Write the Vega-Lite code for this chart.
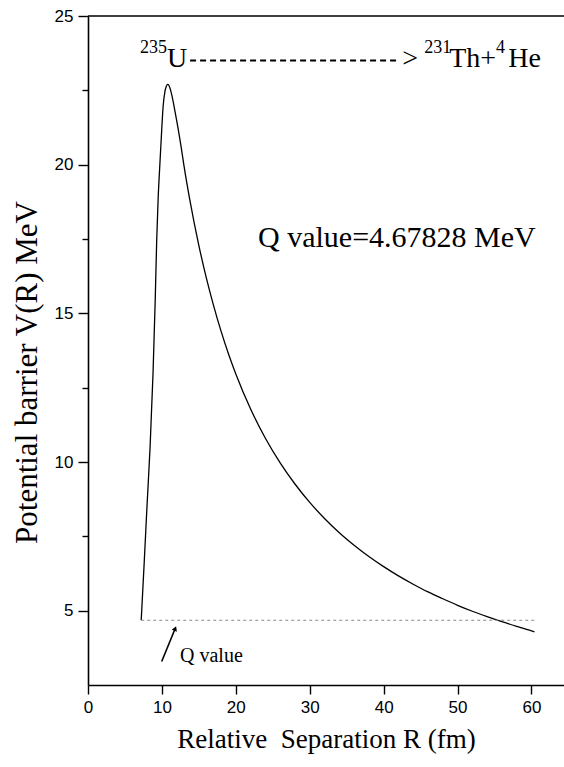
{
  "$schema": "https://vega.github.io/schema/vega-lite/v6.json",
  "autosize": "none",
  "padding": {"left": 88, "top": 16, "right": 0, "bottom": 82},
  "width": 476,
  "height": 669,
  "background": "white",
  "config": {
    "view": {"stroke": null},
    "axis": {
      "grid": false,
      "domainColor": "black",
      "domainWidth": 1.6,
      "tickColor": "black",
      "tickWidth": 1.4,
      "labelFont": "Liberation Sans",
      "labelFontSize": 17,
      "labelColor": "black",
      "titleFont": "Liberation Serif",
      "titleFontWeight": "normal",
      "titleColor": "black"
    }
  },
  "datasets": {
    "barrier": [
      {"R": 7.2, "V": 4.68},
      {"R": 7.6, "V": 6.6},
      {"R": 8.0, "V": 8.6},
      {"R": 8.4, "V": 10.5},
      {"R": 8.8, "V": 13.0},
      {"R": 9.1, "V": 15.5},
      {"R": 9.3, "V": 17.5},
      {"R": 9.49, "V": 18.85},
      {"R": 9.76, "V": 20.18},
      {"R": 10.0, "V": 21.3},
      {"R": 10.16, "V": 21.95},
      {"R": 10.4, "V": 22.45},
      {"R": 10.6, "V": 22.64},
      {"R": 10.8, "V": 22.7},
      {"R": 11.0, "V": 22.64},
      {"R": 11.2, "V": 22.48},
      {"R": 11.47, "V": 22.19},
      {"R": 11.8, "V": 21.75},
      {"R": 12.2, "V": 21.2},
      {"R": 12.6, "V": 20.6},
      {"R": 13.0, "V": 19.94},
      {"R": 13.8, "V": 18.78},
      {"R": 15.0, "V": 17.28},
      {"R": 16.0, "V": 16.2},
      {"R": 17.0, "V": 15.25},
      {"R": 18.0, "V": 14.4},
      {"R": 19.0, "V": 13.64},
      {"R": 20.0, "V": 12.96},
      {"R": 22.0, "V": 11.78},
      {"R": 24.0, "V": 10.8},
      {"R": 26.0, "V": 9.97},
      {"R": 28.0, "V": 9.26},
      {"R": 30.0, "V": 8.64},
      {"R": 32.0, "V": 8.1},
      {"R": 34.0, "V": 7.62},
      {"R": 36.0, "V": 7.2},
      {"R": 38.0, "V": 6.82},
      {"R": 40.0, "V": 6.48},
      {"R": 42.0, "V": 6.17},
      {"R": 44.0, "V": 5.89},
      {"R": 46.0, "V": 5.63},
      {"R": 48.0, "V": 5.4},
      {"R": 50.0, "V": 5.18},
      {"R": 52.0, "V": 4.98},
      {"R": 54.0, "V": 4.8},
      {"R": 56.0, "V": 4.63},
      {"R": 58.0, "V": 4.47},
      {"R": 60.0, "V": 4.32},
      {"R": 60.4, "V": 4.29}
    ],
    "qline": [
      {"R": 7.2, "V": 4.678},
      {"R": 60.6, "V": 4.678}
    ],
    "frame": [{"R": 0, "R2": 64.4, "V": 25}],
    "pointer": [
      {"R": 9.97, "V": 3.29},
      {"R": 11.8, "V": 4.4}
    ],
    "pointerHead": [{"R": 11.8, "V": 4.4}],
    "reactionArrow": [{"R": 13.81, "R2": 42.1, "V": 23.5}],
    "reactionMain": [
      {"R": 10.69, "V": 23.3, "t": "U"},
      {"R": 42.5, "V": 23.3, "t": ">"},
      {"R": 48.86, "V": 23.3, "t": "Th+"},
      {"R": 56.85, "V": 23.3, "t": "He"}
    ],
    "reactionSup": [
      {"R": 7.04, "V": 23.76, "t": "235"},
      {"R": 45.48, "V": 23.76, "t": "231"},
      {"R": 55.2, "V": 23.76, "t": "4"}
    ],
    "qLabel": [{"R": 23.0, "V": 17.22, "t": "Q value=4.67828 MeV"}],
    "qNote": [{"R": 12.45, "V": 3.29, "t": "Q value"}]
  },
  "layer": [
    {
      "data": {"name": "barrier"},
      "mark": {"type": "line", "color": "black", "strokeWidth": 1.3, "interpolate": "monotone"},
      "encoding": {
        "x": {
          "field": "R", "type": "quantitative",
          "scale": {"domain": [0, 64.4], "nice": false, "zero": false},
          "axis": {
            "values": [0, 5, 10, 15, 20, 25, 30, 35, 40, 45, 50, 55, 60],
            "labelExpr": "datum.value % 10 === 0 ? datum.label : ''",
            "tickSize": {"condition": {"test": "datum.value % 10 === 0", "value": 9}, "value": 6},
            "labelPadding": 5,
            "labelFlush": false,
            "title": "Relative\u00a0 Separation R (fm)",
            "titleFontSize": 27,
            "titlePadding": 11
          }
        },
        "y": {
          "field": "V", "type": "quantitative",
          "scale": {"domain": [2.5, 25], "nice": false, "zero": false},
          "axis": {
            "values": [5, 7.5, 10, 12.5, 15, 17.5, 20, 22.5, 25],
            "labelExpr": "datum.value % 5 === 0 ? datum.label : ''",
            "tickSize": {"condition": {"test": "datum.value % 5 === 0", "value": 10}, "value": 6},
            "labelPadding": 5,
            "labelFlush": false,
            "title": "Potential barrier V(R) MeV",
            "titleFontSize": 31,
            "titlePadding": 11,
            "titleY": 356
          }
        }
      }
    },
    {
      "data": {"name": "qline"},
      "mark": {"type": "line", "color": "#8a8a8a", "strokeWidth": 1.1, "strokeDash": [3, 3]},
      "encoding": {
        "x": {"field": "R", "type": "quantitative"},
        "y": {"field": "V", "type": "quantitative"}
      }
    },
    {
      "data": {"name": "frame"},
      "mark": {"type": "rule", "color": "black", "strokeWidth": 1.6},
      "encoding": {
        "x": {"field": "R", "type": "quantitative"},
        "x2": {"field": "R2"},
        "y": {"field": "V", "type": "quantitative"}
      }
    },
    {
      "data": {"name": "pointer"},
      "mark": {"type": "line", "color": "black", "strokeWidth": 1.6},
      "encoding": {
        "x": {"field": "R", "type": "quantitative"},
        "y": {"field": "V", "type": "quantitative"}
      }
    },
    {
      "data": {"name": "pointerHead"},
      "mark": {"type": "point", "shape": "triangle-up", "filled": true, "color": "black", "size": 30, "angle": 22, "opacity": 1},
      "encoding": {
        "x": {"field": "R", "type": "quantitative"},
        "y": {"field": "V", "type": "quantitative"}
      }
    },
    {
      "data": {"name": "reactionArrow"},
      "mark": {"type": "rule", "color": "black", "strokeWidth": 2, "strokeDash": [6, 4]},
      "encoding": {
        "x": {"field": "R", "type": "quantitative"},
        "x2": {"field": "R2"},
        "y": {"field": "V", "type": "quantitative"}
      }
    },
    {
      "data": {"name": "reactionMain"},
      "mark": {"type": "text", "font": "Liberation Serif", "fontSize": 28, "align": "left", "baseline": "alphabetic", "color": "black"},
      "encoding": {
        "x": {"field": "R", "type": "quantitative"},
        "y": {"field": "V", "type": "quantitative"},
        "text": {"field": "t"}
      }
    },
    {
      "data": {"name": "reactionSup"},
      "mark": {"type": "text", "font": "Liberation Serif", "fontSize": 18, "align": "left", "baseline": "alphabetic", "color": "black"},
      "encoding": {
        "x": {"field": "R", "type": "quantitative"},
        "y": {"field": "V", "type": "quantitative"},
        "text": {"field": "t"}
      }
    },
    {
      "data": {"name": "qLabel"},
      "mark": {"type": "text", "font": "Liberation Serif", "fontSize": 30, "align": "left", "baseline": "alphabetic", "color": "black"},
      "encoding": {
        "x": {"field": "R", "type": "quantitative"},
        "y": {"field": "V", "type": "quantitative"},
        "text": {"field": "t"}
      }
    },
    {
      "data": {"name": "qNote"},
      "mark": {"type": "text", "font": "Liberation Serif", "fontSize": 20, "align": "left", "baseline": "alphabetic", "color": "black"},
      "encoding": {
        "x": {"field": "R", "type": "quantitative"},
        "y": {"field": "V", "type": "quantitative"},
        "text": {"field": "t"}
      }
    }
  ]
}
